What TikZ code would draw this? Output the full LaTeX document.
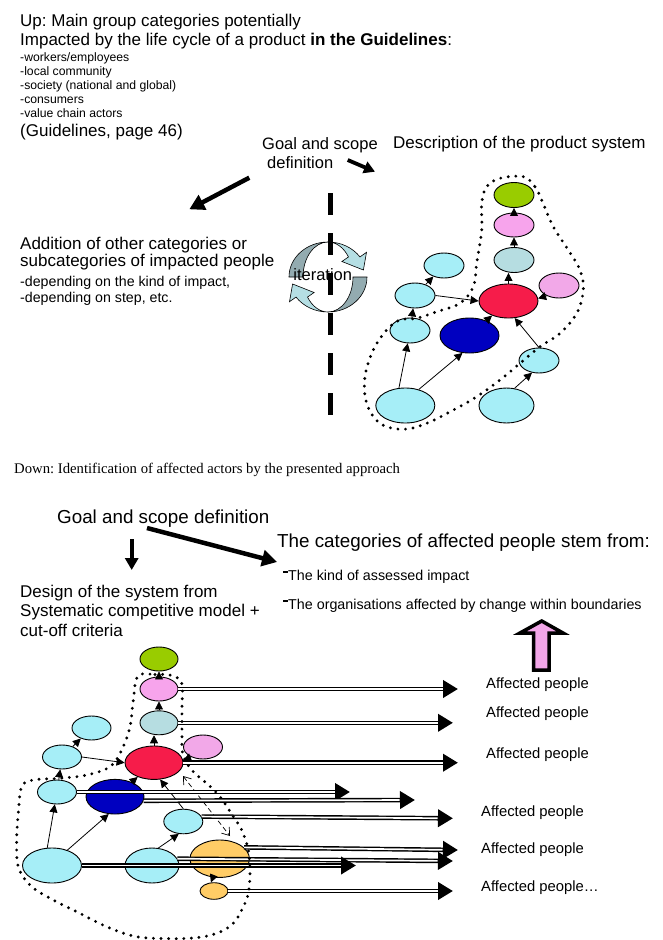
\documentclass[tikz,border=0pt]{standalone}
\usepackage{fontspec}
\setmainfont{Liberation Sans}
\newfontfamily\serifcap{Liberation Serif}
\usetikzlibrary{arrows.meta,shapes.geometric}
\frenchspacing
\newcommand{\fsz}[1]{\fontsize{#1}{#1}\selectfont}
\definecolor{cyanE}{HTML}{A6EEF7}
\definecolor{greenE}{HTML}{99CC00}
\definecolor{pinkE}{HTML}{F7A4EC}
\definecolor{pinkF}{HTML}{F2A8E8}
\definecolor{grayE}{HTML}{B6DDE1}
\definecolor{redE}{HTML}{F61C4A}
\definecolor{blueE}{HTML}{0000C0}
\definecolor{orangeE}{HTML}{FFCC66}
\definecolor{itdark}{HTML}{93ABB0}
\definecolor{itlight}{HTML}{B5DFE4}
\definecolor{pinkArrow}{HTML}{F2A6E8}
\newcommand{\dbl}[2]{\draw[dblout] #1 -- #2; \draw[dblin] #1 -- #2;}
\begin{document}
\begin{tikzpicture}[x=1pt,y=-1pt,
  el/.style={ellipse,draw,line width=0.9pt,inner sep=0pt},
  tarrow/.style={line width=0.8pt,-{Triangle[length=8pt,width=8pt]}},
  bigarrow/.style={line width=4.5pt,-{Triangle[length=15pt,width=16pt]}},
  dots/.style={line width=3.2pt,line cap=round,dash pattern=on 0pt off 7.6pt},
  txt/.style={anchor=base west,inner sep=0pt},
  dblout/.style={line width=4.6pt,-{Triangle[length=15pt,width=17pt]}},
  dblin/.style={white,line width=1.7pt,shorten >=15.5pt}]
\useasboundingbox (0,0) rectangle (662,940);
\fill[white] (0,0) rectangle (662,940);

% ---------- top texts
\node[txt,font=\fsz{17}] (up1) at (20,26.5) {Up: Main group categories potentially};
\node[txt,font=\fsz{17}] (up2) at (20,45.7) {Impacted by the life cycle of a product \textbf{in the Guidelines}:};
\node[txt,font=\fsz{12.2}] (l1) at (20,61) {-workers/employees};
\node[txt,font=\fsz{12.2}] (l2) at (20,75) {-local community};
\node[txt,font=\fsz{12.2}] (l3) at (20,89) {-society (national and global)};
\node[txt,font=\fsz{12.2}] (l4) at (20,103) {-consumers};
\node[txt,font=\fsz{12.2}] (l5) at (20,117) {-value chain actors};
\node[txt,font=\fsz{17}] (gl) at (20,136.5) {(Guidelines, page 46)};

\node[txt,font=\fsz{16.5}] (gs1) at (262,149.5) {Goal and scope};
\node[txt,font=\fsz{16.5}] (gs2) at (267,168.5) {definition};
\node[txt,font=\fsz{17}] (desc) at (393,148.3) {Description of the product system};

\node[txt,font=\fsz{17}] (ad1) at (20,249.3) {Addition of other categories or};
\node[txt,font=\fsz{17}] (ad2) at (20,266.7) {subcategories of impacted people};
\node[txt,font=\fsz{14.2}] (ad3) at (20,286) {-depending on the kind of impact,};
\node[txt,font=\fsz{14.2}] (ad4) at (20,302.7) {-depending on step, etc.};

\coordinate (ta1) at (249.3,177.7);
\coordinate (ta2) at (189.3,209.3);
\draw[bigarrow] (ta1) -- (ta2);
\coordinate (tb1) at (347.7,160);
\coordinate (tb2) at (375,171.7);
\draw[line width=3.8pt,-{Triangle[length=11pt,width=12pt]}] (tb1) -- (tb2);

% ---------- iteration symbol
\begin{scope}[shift={(328,277)},yscale=-1,line width=0.6pt]
  \foreach \r in {0,180}{
  \begin{scope}[rotate=\r]
  \filldraw[fill=itdark] (-39,0) arc[start angle=180,end angle=90,x radius=39,y radius=35]
     arc[start angle=90,end angle=180,x radius=25,y radius=35] -- cycle;
  \filldraw[fill=itlight] (0,35) arc[start angle=90,end angle=35,x radius=39,y radius=35]
     -- (38.5,24.7) -- (35.4,7) -- (13.9,15.5) -- (20.48,20.08)
     arc[start angle=35,end angle=90,x radius=25,y radius=35] -- cycle;
  \end{scope}}
\end{scope}
\coordinate (dl1) at (330,193);
\coordinate (dl2) at (330,417);
\draw[line width=5pt,dash pattern=on 22pt off 18pt] (dl1) -- (dl2);
\node[anchor=base,inner sep=0pt,font=\fsz{16.5}] (iter) at (322.7,280.7) {iteration};

% ---------- top product system
\node[el,fill=greenE,minimum width=40pt,minimum height=25pt] (greenA) at (514,195) {};
\node[el,fill=pinkE,minimum width=40pt,minimum height=24pt] (pinkA) at (514,225) {};
\node[el,fill=grayE,minimum width=40pt,minimum height=25pt] (grayA) at (514,260) {};
\node[el,fill=redE,minimum width=59pt,minimum height=34pt] (redA) at (508.5,301) {};
\node[el,fill=pinkF,minimum width=40pt,minimum height=25pt] (pinkTwoA) at (559,285.5) {};
\node[el,fill=blueE,minimum width=59pt,minimum height=35pt] (blueA) at (469.5,335.5) {};
\node[el,fill=cyanE,minimum width=40pt,minimum height=25pt] (cOneA) at (444,265.5) {};
\node[el,fill=cyanE,minimum width=40pt,minimum height=25pt] (cTwoA) at (415,295.5) {};
\node[el,fill=cyanE,minimum width=40pt,minimum height=25pt] (cThreeA) at (410,330.5) {};
\node[el,fill=cyanE,minimum width=59pt,minimum height=35pt] (bigLA) at (405.3,405.5) {};
\node[el,fill=cyanE,minimum width=55pt,minimum height=35pt] (bigRA) at (506.5,405.5) {};
\node[el,fill=cyanE,minimum width=40pt,minimum height=25pt] (cSRA) at (539,360.5) {};

\draw[tarrow] (pinkA) -- (greenA);
\draw[tarrow] (grayA) -- (pinkA);
\draw[tarrow] (redA.north) -- (redA.north |- grayA.south);
\draw[tarrow] (pinkTwoA.220) -- (redA.5);
\draw[tarrow] (blueA) -- (redA);
\draw[tarrow] (cSRA.north) -- (redA.290);
\draw[tarrow] (bigRA.65) -- (cSRA.240);
\draw[tarrow] (bigLA.50) -- (blueA.248);
\draw[tarrow] (bigLA.110) -- (cThreeA.260);
\draw[tarrow] (cThreeA) -- (cTwoA);
\draw[tarrow] (cTwoA) -- (cOneA);
\draw[tarrow] (cTwoA.east) -- (redA.west);

\draw[dots] plot[smooth cycle,tension=0.6] coordinates {
 (523.3,176.7) (535,186.7) (541.7,200) (553.3,226.7) (568.3,250) (580,270)
 (583.3,290) (576.7,313.3) (560,333.3) (540,346.7) (520,363.3) (500,380)
 (476.7,396.7) (453.3,410) (426.7,423.3) (403.3,429.3) (380,423.3) (366.7,403.3)
 (365,376.7) (373.3,350) (386.7,330) (400,320) (416.7,318.3) (436.7,311.7)
 (460,303.3) (473.3,286.7) (476.7,263.3) (481.7,230) (481.7,203.3) (486.7,186.7)
 (500,178.3)};

% ---------- caption
\node[txt,font=\serifcap\fsz{14.7}] (capt) at (14,473) {Down: Identification of affected actors by the presented approach};

% ---------- bottom header
\node[txt,font=\fsz{18.8}] (gsB) at (57,523) {Goal and scope definition};
\node[txt,font=\fsz{18.8}] (cat) at (277,547) {The categories of affected people stem from:};
\node[txt,font=\fsz{14.3}] (k1) at (283,580) {\rule[6.8pt]{5pt}{2.3pt}The kind of assessed impact};
\node[txt,font=\fsz{14.3}] (k2) at (283,609) {\rule[6.8pt]{5pt}{2.3pt}The organisations affected by change within boundaries};
\node[txt,font=\fsz{17}] (ds1) at (20,597) {Design of the system from};
\node[txt,font=\fsz{17}] (ds2) at (20,616.5) {Systematic competitive model +};
\node[txt,font=\fsz{17}] (ds3) at (20,636) {cut-off criteria};

\coordinate (da1) at (131.7,539);
\coordinate (da2) at (131.7,570);
\draw[line width=3.6pt,-{Triangle[length=12pt,width=13pt]}] (da1) -- (da2);
\coordinate (db1) at (147,528);
\coordinate (db2) at (277,562);
\draw[bigarrow] (db1) -- (db2);

\draw[line width=3.5pt,fill=pinkArrow,line join=miter]
  (541.7,621) -- (563,633) -- (549,633) -- (549,670) -- (533.5,670) -- (533.5,633) -- (520,633) -- cycle;

% ---------- bottom system
\node[el,fill=greenE,minimum width=38pt,minimum height=24pt] (greenB) at (159,659) {};
\node[el,fill=pinkE,minimum width=38pt,minimum height=24pt] (pinkB) at (159,689) {};
\node[el,fill=grayE,minimum width=38pt,minimum height=24pt] (grayB) at (159,722.8) {};
\node[el,fill=redE,minimum width=58pt,minimum height=33.4pt] (redB) at (154,762.7) {};
\node[el,fill=pinkF,minimum width=39pt,minimum height=24pt] (pinkTwoB) at (203,747) {};
\node[el,fill=cyanE,minimum width=39pt,minimum height=24pt] (cOneB) at (91.5,728) {};
\node[el,fill=cyanE,minimum width=39pt,minimum height=24pt] (cTwoB) at (62,757) {};
\node[el,fill=cyanE,minimum width=39pt,minimum height=24pt] (cThreeB) at (57,792) {};
\node[el,fill=blueE,minimum width=58pt,minimum height=34.6pt] (blueB) at (115,796.7) {};
\node[el,fill=cyanE,minimum width=39pt,minimum height=24.6pt] (cSRB) at (183.3,821.5) {};
\node[el,fill=cyanE,minimum width=59pt,minimum height=35pt] (bigLB) at (52,865.5) {};
\node[el,fill=cyanE,minimum width=54pt,minimum height=35pt] (bigMB) at (152,865.5) {};
\node[el,fill=orangeE,minimum width=59.4pt,minimum height=37.4pt] (orangeB) at (219.7,858.7) {};
\node[el,fill=orangeE,minimum width=28pt,minimum height=16.6pt] (orangeS) at (214,891) {};

\draw[tarrow] (pinkB) -- (greenB);
\draw[tarrow] (grayB) -- (pinkB);
\draw[tarrow] (redB.north) -- (redB.north |- grayB.south);
\draw[tarrow] (pinkTwoB.220) -- (redB.5);
\draw[tarrow] (cTwoB.east) -- (redB.west);
\draw[tarrow] (cTwoB) -- (cOneB);
\draw[tarrow] (cThreeB) -- (cTwoB);
\draw[tarrow] (bigLB.105) -- (cThreeB.260);
\draw[tarrow] (bigLB.45) -- (blueB.250);
\draw[tarrow] (bigMB.70) -- (cSRB.250);
\draw[tarrow] (cSRB.north) -- (redB.290);
\draw[tarrow] (blueB) -- (redB);
\draw[tarrow] (orangeB.250) -- (orangeS.110);
\coordinate (dsA) at (183,776);
\coordinate (dsB) at (230,836);
\draw[line width=0.7pt,dash pattern=on 5pt off 3pt,{Straight Barb[length=7pt,width=10pt]}-{Straight Barb[length=7pt,width=10pt]}] (dsA) -- (dsB);

% double arrows
\coordinate (t1) at (458,689);
\coordinate (t2) at (453,722.8);
\coordinate (t3) at (458,762.7);
\coordinate (t4) at (350,792);
\coordinate (t5) at (415,800);
\coordinate (t6) at (453,818.3);
\coordinate (t7) at (458,850);
\coordinate (t8) at (453,861);
\coordinate (t9) at (356,865.5);
\coordinate (t10) at (453,891);
\dbl{(pinkB.east)}{(t1)}
\dbl{(grayB.east)}{(t2)}
\dbl{(redB.east)}{(t3)}
\dbl{(cThreeB.east)}{(t4)}
\dbl{(blueB.-8)}{(t5)}
\dbl{(cSRB.15)}{(t6)}
\dbl{(orangeB.25)}{(t7)}
\dbl{(bigMB.15)}{(t8)}
\dbl{(bigLB.east)}{(t9)}
\dbl{(orangeS.east)}{(t10)}

\draw[dots] plot[smooth cycle,tension=0.6] coordinates {
 (138,676) (155,674.5) (172,675.5) (181.7,683.3) (182,706.7) (182,730) (183,755)
 (193.3,771.7) (206.7,783.3) (220,796.7) (233.3,816.7) (241.7,830) (248.3,850)
 (250,873.3) (248.3,893.3) (243.3,906.7) (233.3,923.3) (216.7,933.3) (193.3,938)
 (160,938.5) (133.3,936) (106.7,926.7) (76.7,911.7) (50,898.3) (30,885)
 (18.3,866.7) (16.7,840) (18.3,813.3) (21.7,786.7) (33.3,780) (60,778.3)
 (86.7,775) (110,766.7) (121.7,750) (130,726.7) (133.3,700)};

% labels
\node[txt,font=\fsz{14.8}] (ap1) at (486,688) {Affected people};
\node[txt,font=\fsz{14.8}] (ap2) at (486,717) {Affected people};
\node[txt,font=\fsz{14.8}] (ap3) at (486,758) {Affected people};
\node[txt,font=\fsz{14.8}] (ap4) at (481,816) {Affected people};
\node[txt,font=\fsz{14.8}] (ap5) at (481,853) {Affected people};
\node[txt,font=\fsz{14.8}] (ap6) at (481,891) {Affected people…};
\end{tikzpicture}
\end{document}
